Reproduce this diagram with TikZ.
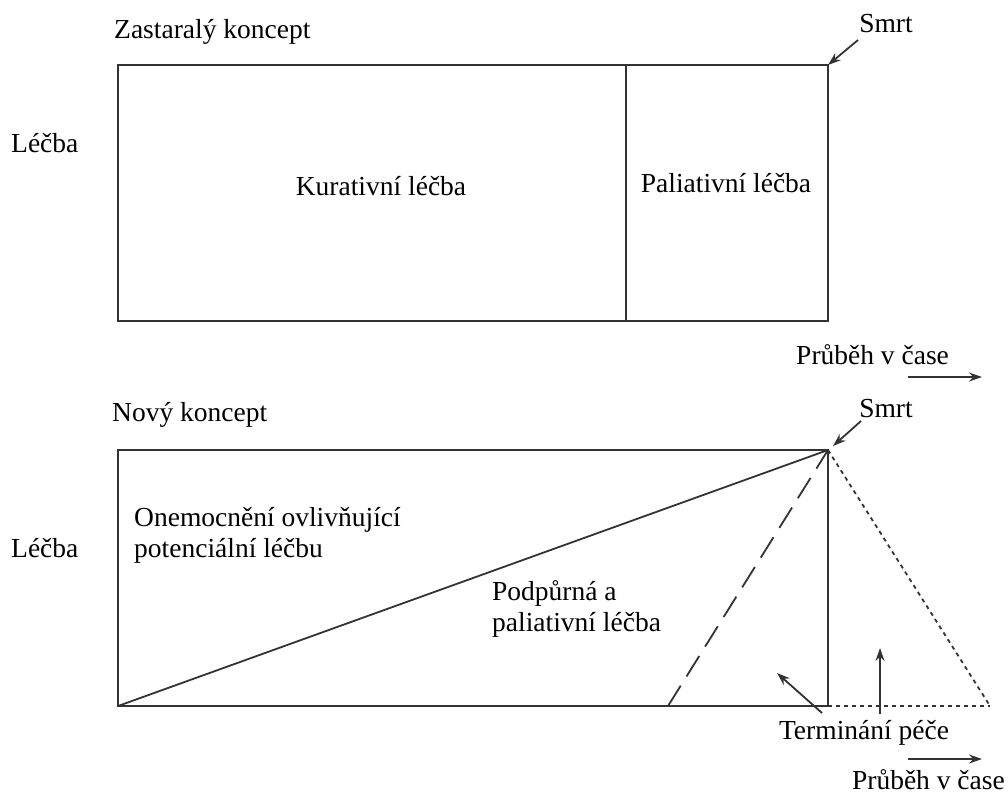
\documentclass[tikz,border=0pt]{standalone}
\usepackage{fontspec}
\setmainfont{Liberation Serif}
\usetikzlibrary{arrows.meta}
\begin{document}
\begin{tikzpicture}[x=1pt,y=-1pt,
  lbl/.style={inner sep=0pt,font=\fontsize{27.5}{31}\selectfont},
  frame/.style={draw=black!80,line width=1.8pt},
  arr/.style={draw=black!80,line width=1.8pt,-{Stealth[length=13pt,width=9pt]}}]
\useasboundingbox (0,0) rectangle (1008,796);
% ---- top: old concept ----
\coordinate (tl1) at (118,65);
\coordinate (br1) at (828,321);
\coordinate (tr1) at (828,65);
\draw[frame] (tl1) rectangle (br1);
\coordinate (d1t) at (626,65);
\coordinate (d1b) at (626,321);
\draw[frame] (d1t) -- (d1b);
\node[lbl,anchor=west] (old) at (114,32) {Zastaralý koncept};
\node[lbl] (smrt1) at (886,24) {Smrt};
\draw[arr] (858,40) -- (tr1);
\node[lbl,anchor=west] (lecba1) at (11,143) {Léčba};
\node[lbl] (kur) at (381,186) {Kurativní léčba};
\node[lbl] (pal) at (726,183) {Paliativní léčba};
\node[lbl,anchor=west] (time1) at (796,355) {Průběh v čase};
\coordinate (t1a) at (908,377);
\coordinate (t1b) at (982,377);
\draw[arr] (t1a) -- (t1b);
% ---- bottom: new concept ----
\coordinate (tl2) at (118,450);
\coordinate (tr2) at (828,450);
\coordinate (bl2) at (118,706);
\coordinate (br2) at (828,706);
\draw[frame] (tl2) rectangle (br2);
\draw[frame] (bl2) -- (tr2);
\coordinate (dsh) at (668,706);
\draw[frame,dash pattern=on 24pt off 11pt] (dsh) -- (tr2);
\coordinate (apex) at (990,706);
\draw[frame,dash pattern=on 4pt off 4pt] (tr2) -- (apex);
\draw[frame,dash pattern=on 4pt off 4pt] (br2) -- (apex);
\node[lbl,anchor=west] (new) at (112,415) {Nový koncept};
\node[lbl] (smrt2) at (886,409) {Smrt};
\draw[arr] (861,421) -- (833,446);
\node[lbl,anchor=west] (lecba2) at (11,548) {Léčba};
\node[lbl,anchor=west,align=left] (onem) at (134,535) {Onemocnění ovlivňující\\potenciální léčbu};
\node[lbl,anchor=west,align=left] (podp) at (492,609) {Podpůrná a\\paliativní léčba};
\node[lbl] (term) at (864,733) {Terminání péče};
\coordinate (ta) at (777,673);
\coordinate (tb) at (880,648);
\draw[arr] (822,713) -- (ta);
\draw[arr] (880,714) -- (tb);
\coordinate (t2a) at (908,759);
\coordinate (t2b) at (982,759);
\draw[arr] (t2a) -- (t2b);
\node[lbl,anchor=base east] (time2) at (1005,789) {Průběh v čase};
\end{tikzpicture}
\end{document}
